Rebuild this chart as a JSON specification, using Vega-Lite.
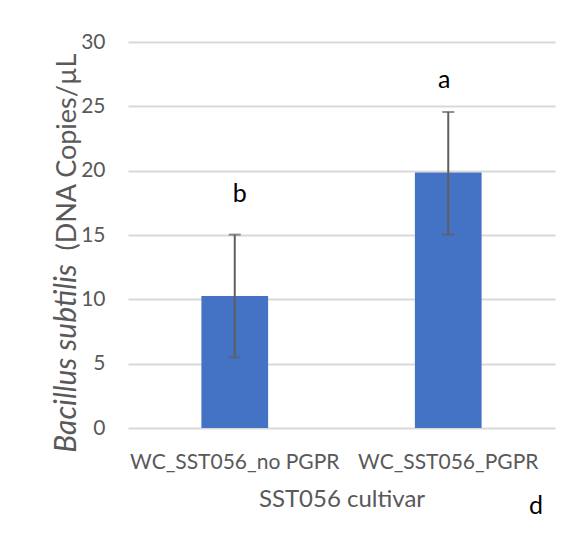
{
  "$schema": "https://vega.github.io/schema/vega-lite/v6.json",
  "autosize": {"type": "none"},
  "padding": {"left": 128, "top": 42, "right": 22, "bottom": 112},
  "width": 427,
  "height": 386,
  "background": "white",
  "config": {
    "view": {"stroke": null},
    "font": "Lato"
  },
  "title": {
    "text": "d",
    "orient": "bottom",
    "anchor": "end",
    "frame": "group",
    "fontSize": 25,
    "fontWeight": "normal",
    "color": "black",
    "font": "Lato",
    "dx": -12,
    "offset": -17
  },
  "data": {
    "values": [
      {"group": "WC_SST056_no PGPR", "mean": 10.26, "lo": 5.49, "hi": 15.03, "letter": "b", "letterPos": 17.58},
      {"group": "WC_SST056_PGPR", "mean": 19.85, "lo": 15.03, "hi": 24.56, "letter": "a", "letterPos": 26.46}
    ]
  },
  "encoding": {
    "x": {
      "field": "group",
      "type": "nominal",
      "sort": null,
      "scale": {"paddingInner": 0, "paddingOuter": 0},
      "axis": {
        "title": "SST056 cultivar",
        "titleFont": "Lato",
        "titleFontSize": 24,
        "titleFontWeight": "normal",
        "titleColor": "#595959",
        "titleBaseline": "alphabetic",
        "titleY": 78,
        "labelAngle": 0,
        "labelFont": "Lato",
        "labelFontSize": 21,
        "labelColor": "#595959",
        "labelBaseline": "alphabetic",
        "labelPadding": 40,
        "labelLimit": 400,
        "ticks": false,
        "tickSize": 0,
        "domain": false,
        "grid": false
      }
    }
  },
  "layer": [
    {
      "mark": {"type": "bar", "color": "#4472C4", "width": {"band": 0.3125}},
      "encoding": {
        "y": {
          "field": "mean",
          "type": "quantitative",
          "scale": {"domain": [0, 30], "nice": false},
          "axis": {
            "values": [0, 5, 10, 15, 20, 25, 30],
            "title": "Bacillus subtilis",
            "titleFont": "Lato",
            "titleFontSize": 30,
            "titleFontStyle": "italic",
            "titleFontWeight": "normal",
            "titleColor": "#595959",
            "titleAngle": -90,
            "titleAlign": "center",
            "titleBaseline": "alphabetic",
            "titleX": -53,
            "titleY": 316,
            "labelFont": "Lato",
            "labelFontSize": 21,
            "labelColor": "#595959",
            "labelPadding": 23,
            "ticks": false,
            "tickSize": 0,
            "domain": false,
            "grid": true,
            "gridColor": "#d9d9d9",
            "gridWidth": 2,
            "orient": "left"
          }
        }
      }
    },
    {
      "mark": {"type": "rule", "color": "#5f5f5f", "strokeWidth": 2},
      "encoding": {
        "y": {
          "field": "lo",
          "type": "quantitative",
          "scale": {"domain": [0, 30], "nice": false},
          "axis": {
            "orient": "left",
            "labels": false,
            "ticks": false,
            "domain": false,
            "grid": false,
            "title": "(DNA Copies/µL",
            "titleFont": "Lato",
            "titleFontSize": 27,
            "titleFontWeight": "normal",
            "titleColor": "#595959",
            "titleAngle": -90,
            "titleAlign": "left",
            "titleBaseline": "alphabetic",
            "titleX": -53,
            "titleY": 208
          }
        },
        "y2": {"field": "hi"}
      }
    },
    {
      "mark": {"type": "tick", "color": "#5f5f5f", "thickness": 2, "size": 12},
      "encoding": {"y": {"field": "lo", "type": "quantitative", "axis": null}}
    },
    {
      "mark": {"type": "tick", "color": "#5f5f5f", "thickness": 2, "size": 12},
      "encoding": {"y": {"field": "hi", "type": "quantitative", "axis": null}}
    },
    {
      "transform": [{"filter": "datum.letter === 'b'"}],
      "mark": {"type": "text", "font": "Lato", "fontSize": 25, "color": "black", "baseline": "alphabetic", "align": "center", "dx": 5},
      "encoding": {
        "y": {"field": "letterPos", "type": "quantitative", "axis": null},
        "text": {"field": "letter"}
      }
    },
    {
      "transform": [{"filter": "datum.letter === 'a'"}],
      "mark": {"type": "text", "font": "Lato", "fontSize": 25, "color": "black", "baseline": "alphabetic", "align": "center", "dx": -4},
      "encoding": {
        "y": {"field": "letterPos", "type": "quantitative", "axis": null},
        "text": {"field": "letter"}
      }
    }
  ],
  "resolve": {"axis": {"y": "independent"}}
}
